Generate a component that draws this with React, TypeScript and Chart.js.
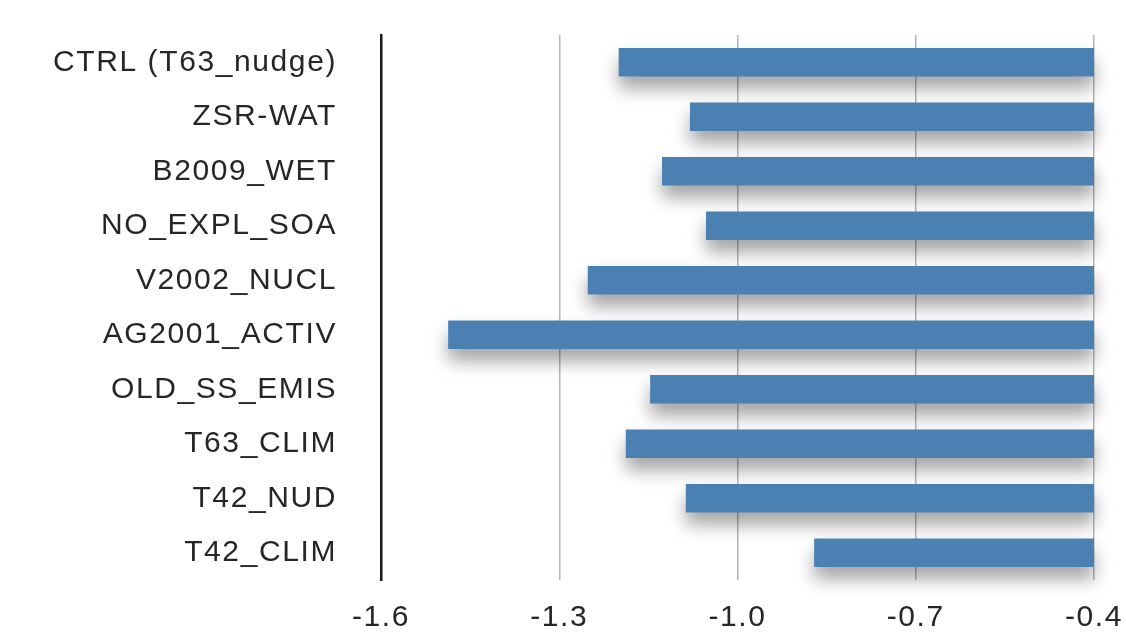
import React, { useEffect, useRef } from "react";
import { Chart, registerables } from "chart.js";

Chart.register(...registerables);

const categories = [
  "CTRL (T63_nudge)",
  "ZSR-WAT",
  "B2009_WET",
  "NO_EXPL_SOA",
  "V2002_NUCL",
  "AG2001_ACTIV",
  "OLD_SS_EMIS",
  "T63_CLIM",
  "T42_NUD",
  "T42_CLIM",
];

const values = [-1.2, -1.08, -1.127, -1.053, -1.252, -1.487, -1.147, -1.188, -1.087, -0.871];

const axisMin = -1.6;
const axisMax = -0.4;
const axisStep = 0.3;

const shadowPlugin = {
  id: "barShadow",
  beforeDraw(chart: any) {
    (chart.ctx as any).letterSpacing = "1.6px";
  },
  beforeDatasetsDraw(chart: any) {
    const ctx = chart.ctx;
    ctx.save();
    ctx.shadowColor = "rgba(0,0,0,0.36)";
    ctx.shadowBlur = 18;
    ctx.shadowOffsetX = 0;
    ctx.shadowOffsetY = 12;
  },
  afterDatasetsDraw(chart: any) {
    chart.ctx.restore();
  },
};

export default function App() {
  const canvasRef = useRef<HTMLCanvasElement | null>(null);

  useEffect(() => {
    const canvas = canvasRef.current;
    if (!canvas) return;
    (canvas.getContext("2d") as any).letterSpacing = "1.6px";
    const font = { family: "'Liberation Sans', Arial, sans-serif", size: 30 };
    const chart = new Chart(canvas, {
      type: "bar",
      data: {
        labels: categories,
        datasets: [
          {
            data: values.map((v) => [v, axisMax]) as any,
            backgroundColor: "#4a80b2",
            borderWidth: 0,
            categoryPercentage: 1,
            barPercentage: 0.52,
            clip: false as any,
          },
        ],
      },
      options: {
        indexAxis: "y",
        animation: false,
        responsive: true,
        maintainAspectRatio: false,
        layout: { padding: { top: 35, right: 32, left: 0, bottom: 0 } },
        plugins: {
          legend: { display: false },
          tooltip: { enabled: false },
        },
        scales: {
          x: {
            type: "linear",
            min: axisMin,
            max: axisMax,
            border: { display: false },
            grid: {
              drawTicks: true,
              tickLength: 20,
              tickColor: "rgba(0,0,0,0)",
              lineWidth: 1.5,
              color: (c: any) =>
                c.tick && c.tick.value <= axisMin + 0.01 ? "rgba(0,0,0,0)" : "#b5b5b5",
            },
            ticks: {
              stepSize: axisStep,
              padding: 0,
              color: "#262626",
              font,
              callback: (v: any) => Number(v).toFixed(1),
            },
            afterFit: (s: any) => {
              s.height = 54;
            },
          },
          y: {
            type: "category",
            border: { display: true, color: "#1a1a1a", width: 2.5 },
            grid: {
              display: true,
              drawOnChartArea: false,
              drawTicks: true,
              tickLength: 40,
              tickColor: "rgba(0,0,0,0)",
              color: "rgba(0,0,0,0)",
            },
            ticks: { padding: 4, color: "#262626", font },
            afterFit: (s: any) => {
              s.width = 381;
            },
          },
        },
      },
      plugins: [shadowPlugin],
    });
    return () => chart.destroy();
  }, []);

  return (
    <div style={{ position: "fixed", left: 0, top: 0, width: 1126, height: 634, background: "#fff" }}>
      <canvas ref={canvasRef} />
    </div>
  );
}
